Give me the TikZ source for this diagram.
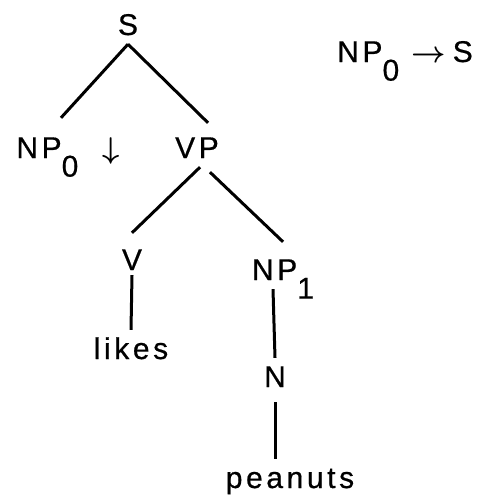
\documentclass[tikz,border=0pt]{standalone}
\usepackage{fix-cm}
\usepackage{fontspec}
\setmainfont{Liberation Sans}[LetterSpace=12,FakeBold=0.6]
\usepackage{tikz}

\newcommand{\lowsub}[1]{\raisebox{-0.62em}[0pt][0pt]{#1}}

\begin{document}
\begin{tikzpicture}[x=1pt,y=-1pt,
    label/.style={inner xsep=0pt,inner ysep=9pt,text height=20pt,text depth=0pt,anchor=base,font=\fontsize{30}{32}\selectfont},
    branch/.style={line width=3pt}]
  \useasboundingbox (0,0) rectangle (478,496);

  \node[label] (s) at (128,35) {S};
  \node[label] (np0) at (68,158) {NP\lowsub{0}\hspace{24pt}\smash{\boldmath$\downarrow$}};
  \node[label] (vp) at (197,158) {VP};
  \node[label] (v) at (132,270) {V};
  \node[label] (np1) at (283,280) {NP\lowsub{1}};
  \node[label] (likes) at (131,359) {likes};
  \node[label] (n) at (275,387) {N};
  \node[label] (peanuts) at (290,488) {peanuts};

  \node[label] (rule) at (405,62) {NP\lowsub{0}\hspace{12pt}{\boldmath$\rightarrow$}\hspace{7pt}S};

  \draw[branch] (s.south) -- ([xshift=-7pt,yshift=11pt]np0.north);
  \draw[branch] (s.south) -- ([xshift=11pt,yshift=6pt]vp.north);
  \draw[branch] ([xshift=3pt]vp.south) -- ([yshift=8pt]v.north);
  \draw[branch] ([xshift=13pt,yshift=-5pt]vp.south) -- ([yshift=9pt]np1.north);
  \draw[branch] ([yshift=4pt]v.south) -- (likes.north);
  \draw[branch] ([xshift=-10pt]np1.south) -- (n.north);
  \draw[branch] ([yshift=-6pt]n.south) -- (n.south |- peanuts.north);

\end{tikzpicture}
\end{document}
